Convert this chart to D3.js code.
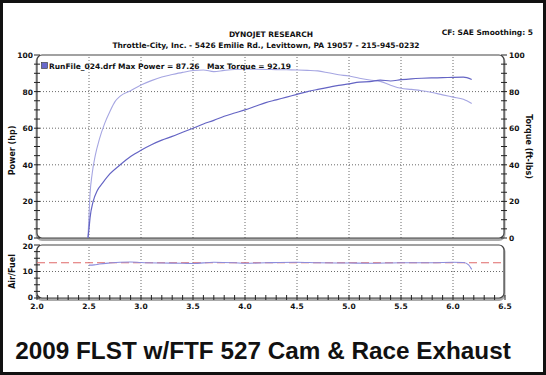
<!DOCTYPE html>
<html>
<head>
<meta charset="utf-8">
<script src="https://cdn.jsdelivr.net/npm/d3@7"></script>
<style>
  body { margin: 0; background: #fff; }
  svg { display: block; }
  .lbl { font-family: "DejaVu Sans", Verdana, sans-serif; font-weight: bold; fill: #111; }
</style>
</head>
<body>
<div id="chart"></div>
<script>
// rpm in thousands
const powerRpm = [2.49, 2.50, 2.51, 2.54, 2.58, 2.63, 2.70, 2.80, 2.90, 3.00, 3.10, 3.20, 3.30, 3.40, 3.50,
  3.60, 3.70, 3.80, 3.90, 4.00, 4.10, 4.20, 4.30, 4.40, 4.50, 4.60, 4.70, 4.80, 4.90, 5.00,
  5.10, 5.20, 5.30, 5.40, 5.50, 5.60, 5.70, 5.80, 5.90, 6.00, 6.10, 6.18];
const powerHp = [0, 5, 11, 20, 26, 30, 35, 40, 44.5, 48, 51, 53.5, 55.5, 57.8, 60,
  62.3, 64.3, 66.5, 68.3, 70, 72, 74, 75.5, 77, 78.5, 80, 81.2, 82.3, 83.4, 84.2,
  85.2, 85.4, 86.3, 85.8, 86.5, 87.0, 87.3, 87.5, 87.6, 87.8, 87.9, 86.6];

const torqueRpm = [2.49, 2.50, 2.51, 2.53, 2.56, 2.60, 2.65, 2.70, 2.75, 2.80, 2.90, 3.00, 3.10, 3.20,
  3.30, 3.40, 3.50, 3.60, 3.70, 3.80, 3.90, 4.00, 4.10, 4.20, 4.30, 4.40, 4.50, 4.60,
  4.70, 4.80, 4.90, 5.00, 5.10, 5.20, 5.30, 5.40, 5.50, 5.60, 5.70, 5.80, 5.90, 6.00, 6.10, 6.18];
const torqueFtLb = [0, 12, 24, 35, 45, 54, 62.5, 69, 74.5, 77.5, 80.5, 83.6, 86, 88,
  89.3, 90.5, 91.5, 91.8, 90.9, 91.6, 92.1, 92.2, 92.2, 92.1, 92.0, 91.9, 91.8, 91.6,
  91.3, 90.3, 89.2, 88.5, 87.3, 86.3, 85.6, 83.5, 81.8, 81.2, 80.5, 79.5, 78.2, 77.0, 75.8, 73.5];

const afrRpm = [2.50, 2.55, 2.60, 2.70, 2.80, 2.90, 3.00, 3.20, 3.40, 3.50, 3.70, 3.90, 4.00,
  4.20, 4.50, 4.70, 5.00, 5.20, 5.50, 5.80, 6.00, 6.10, 6.15, 6.18];
const afrValues = [12.4, 12.5, 12.8, 13.2, 13.5, 13.6, 13.4, 13.2, 13.1, 13.0, 13.5, 13.3, 13.1,
  13.3, 13.5, 13.3, 13.2, 13.1, 13.3, 13.3, 13.5, 13.4, 12.5, 10.8];
const afrTarget = 13.3;

const xTicks = [2.0, 2.5, 3.0, 3.5, 4.0, 4.5, 5.0, 5.5, 6.0, 6.5];
const powerTicks = [0, 20, 40, 60, 80, 100];
const afrTicks = [0, 10, 20];

const W = 546, H = 375;
const svg = d3.select("#chart").append("svg").attr("width", W).attr("height", H);

const x = d3.scaleLinear().domain([2, 6.5]).range([37, 505]);
const yP = d3.scaleLinear().domain([0, 100]).range([238, 55]);
const yT = d3.scaleLinear().domain([0, 100]).range([238, 55]);
const yA = d3.scaleLinear().domain([0, 20]).range([298, 245]);

// outer frame
svg.append("rect").attr("x", 1.5).attr("y", 1.5).attr("width", W - 3).attr("height", H - 3)
  .attr("fill", "#fff").attr("stroke", "#111").attr("stroke-width", 3);

// header texts
svg.append("text").attr("class", "lbl").attr("x", 271).attr("y", 37)
  .attr("text-anchor", "middle").style("font-size", "7.5px").text("DYNOJET RESEARCH");
svg.append("text").attr("class", "lbl").attr("x", 266).attr("y", 48)
  .attr("text-anchor", "middle").style("font-size", "7.5px")
  .text("Throttle-City, Inc. - 5426 Emilie Rd., Levittown, PA 19057 - 215-945-0232");
svg.append("text").attr("class", "lbl").attr("x", 533).attr("y", 35)
  .attr("text-anchor", "end").style("font-size", "7.5px").text("CF: SAE  Smoothing: 5");

// panel frames with grey shadow
function panel(y0, y1) {
  svg.append("rect").attr("x", x(2)).attr("y", y0 + 1.5).attr("width", x(6.5) - x(2) - 1)
    .attr("height", y1 - y0).attr("rx", 5).attr("fill", "none")
    .attr("stroke", "#aaa").attr("stroke-width", 3);
  svg.append("rect").attr("x", x(2)).attr("y", y0).attr("width", x(6.5) - x(2) - 1)
    .attr("height", y1 - y0).attr("rx", 5).attr("fill", "#fff")
    .attr("stroke", "#444").attr("stroke-width", 1.2);
}
panel(yP(100), yP(0));
panel(yA(20), yA(0));

// dotted grid
const grid = svg.append("g").attr("stroke", "#444").attr("stroke-width", 0.8)
  .attr("stroke-dasharray", "1,2");
xTicks.slice(1, -1).forEach(v => {
  grid.append("line").attr("x1", x(v)).attr("x2", x(v)).attr("y1", yP(100) + 2).attr("y2", yP(0));
  grid.append("line").attr("x1", x(v)).attr("x2", x(v)).attr("y1", yA(20) + 2).attr("y2", yA(0));
});
powerTicks.slice(1, -1).forEach(v => {
  grid.append("line").attr("x1", x(2)).attr("x2", x(6.5) - 1).attr("y1", yP(v)).attr("y2", yP(v));
});
grid.append("line").attr("x1", x(2)).attr("x2", x(6.5) - 1).attr("y1", yA(10)).attr("y2", yA(10));

// tick marks crossing the frame lines
const tk = svg.append("g").attr("stroke", "#222").attr("stroke-width", 1);
d3.range(0, 101, 5).forEach(v => {
  tk.append("line").attr("x1", x(2) - 3).attr("x2", x(2) + 3).attr("y1", yP(v)).attr("y2", yP(v));
  tk.append("line").attr("x1", x(6.5) - 4).attr("x2", x(6.5) + 2).attr("y1", yT(v)).attr("y2", yT(v));
});
d3.range(0, 20.1, 2.5).forEach(v => {
  tk.append("line").attr("x1", x(2) - 3).attr("x2", x(2) + 3).attr("y1", yA(v)).attr("y2", yA(v));
});
d3.range(20, 65.1, 1).forEach(v => {
  tk.append("line").attr("x1", x(v / 10)).attr("x2", x(v / 10))
    .attr("y1", yA(0) - 3).attr("y2", yA(0) + 2);
});

// tick labels
svg.selectAll(".pl").data(powerTicks).join("text").attr("class", "lbl")
  .attr("x", 33).attr("y", d => yP(d) + (d === 0 ? 2 : 3)).attr("text-anchor", "end")
  .style("font-size", "7.5px").text(d => d);
svg.selectAll(".tl").data(powerTicks).join("text").attr("class", "lbl")
  .attr("x", 509).attr("y", d => yT(d) + 3).attr("text-anchor", "start")
  .style("font-size", "7.5px").text(d => d);
svg.selectAll(".al").data(afrTicks).join("text").attr("class", "lbl")
  .attr("x", 33).attr("y", d => yA(d) + (d === 20 ? 3.5 : 2)).attr("text-anchor", "end")
  .style("font-size", "7.5px").text(d => d);
svg.selectAll(".xl").data(xTicks).join("text").attr("class", "lbl")
  .attr("x", d => x(d)).attr("y", 309).attr("text-anchor", "middle")
  .style("font-size", "7.5px").text(d => d.toFixed(1));

// axis titles
svg.append("text").attr("class", "lbl").style("font-size", "8px")
  .attr("transform", `translate(15,${(yP(0) + yP(100)) / 2 + 4}) rotate(-90)`)
  .attr("text-anchor", "middle").text("Power (hp)");
svg.append("text").attr("class", "lbl").style("font-size", "8px")
  .attr("transform", `translate(526,${(yT(0) + yT(100)) / 2}) rotate(90)`)
  .attr("text-anchor", "middle").text("Torque (ft-lbs)");
svg.append("text").attr("class", "lbl").style("font-size", "8px")
  .attr("transform", `translate(15,${(yA(0) + yA(20)) / 2}) rotate(-90)`)
  .attr("text-anchor", "middle").text("Air/Fuel");

// curves
const lineP = d3.line().x(d => x(d[0])).y(d => yP(d[1])).curve(d3.curveMonotoneX);
const lineT = d3.line().x(d => x(d[0])).y(d => yT(d[1])).curve(d3.curveMonotoneX);
const lineA = d3.line().x(d => x(d[0])).y(d => yA(d[1])).curve(d3.curveMonotoneX);

svg.append("path").datum(d3.zip(torqueRpm, torqueFtLb)).attr("d", lineT)
  .attr("fill", "none").attr("stroke", "#a6a6e2").attr("stroke-width", 1.1);
svg.append("path").datum(d3.zip(powerRpm, powerHp)).attr("d", lineP)
  .attr("fill", "none").attr("stroke", "#6464c4").attr("stroke-width", 1.2);

svg.append("line").attr("x1", x(2)).attr("x2", x(6.5) - 1)
  .attr("y1", yA(afrTarget)).attr("y2", yA(afrTarget))
  .attr("stroke", "#e06a6a").attr("stroke-width", 1.2).attr("stroke-dasharray", "8,4");
svg.append("path").datum(d3.zip(afrRpm, afrValues)).attr("d", lineA)
  .attr("fill", "none").attr("stroke", "#8c8cdc").attr("stroke-width", 1.1);

// legend
svg.append("rect").attr("x", 41.5).attr("y", 62.5).attr("width", 6).attr("height", 6)
  .attr("fill", "#6a6acc").attr("stroke", "#333").attr("stroke-width", 0.6);
svg.append("text").attr("class", "lbl").attr("x", 49).attr("y", 69)
  .style("font-size", "7.5px").text("RunFile_024.drf Max Power = 87.26");
svg.append("text").attr("class", "lbl").attr("x", 207).attr("y", 69)
  .style("font-size", "7.5px").text("Max Torque = 92.19");

// bottom title
svg.append("text").attr("x", 263).attr("y", 359).attr("text-anchor", "middle")
  .style("font-family", "'Liberation Sans', Arial, sans-serif").style("font-weight", "bold")
  .style("font-size", "24.3px").attr("fill", "#111")
  .text("2009 FLST w/FTF 527 Cam & Race Exhaust");
</script>
</body>
</html>
